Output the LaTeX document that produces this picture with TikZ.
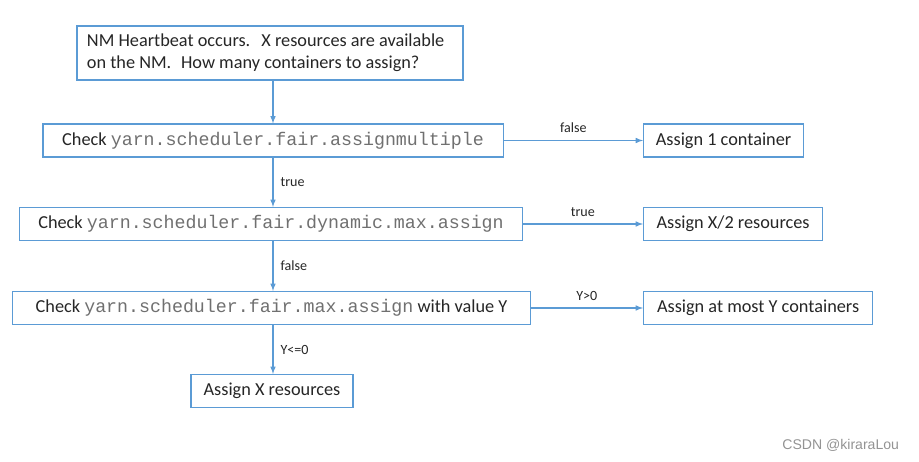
\documentclass[tikz,border=0pt]{standalone}
\usepackage{fontspec}
\setmainfont{Carlito}
\setmonofont{Liberation Mono}
\newfontfamily\markfont{Liberation Sans}
\usetikzlibrary{positioning}

\definecolor{lineblue}{HTML}{5B9BD5}
\definecolor{textgray}{HTML}{262626}
\definecolor{codegray}{HTML}{707070}

\newcommand{\prop}[1]{{\fontsize{13}{15.6}\selectfont\ttfamily\color{codegray}#1}}

\tikzset{   box/.style={draw=lineblue,line width=0.8pt,fill=white,text=textgray,inner xsep=0.25cm,inner ysep=0pt,
                font=\fontsize{13}{15.6}\selectfont,minimum height=0.825cm},
            arr/.style={draw=lineblue,line width=0.8pt,-latex},
            lbl/.style={text=textgray,font=\fontsize{10}{12}\selectfont,inner sep=2pt},
}

\begin{document}
\begin{tikzpicture}[x=0.025cm,y=-0.025cm]
    \useasboundingbox (0,0) rectangle (919,461);

    \node[box,text width=9.15cm,inner xsep=0.25cm,align=flush left,minimum height=1.35cm] (hb) at (270,53)
        {NM Heartbeat occurs.\hspace{4pt} X resources are available\\on the NM.\hspace{4pt} How many containers to assign?};

    \node[box,minimum width=11.5cm] (multi) at (273,140.5) {Check \prop{yarn.scheduler.fair.assignmultiple}};   % checks
    \node[box,minimum width=12.55cm] (dyn) at (271,224) {Check \prop{yarn.scheduler.fair.dynamic.max.assign}};
    \node[box,minimum width=12.925cm] (max) at (271.5,308) {Check \prop{yarn.scheduler.fair.max.assign} with value Y};
    \node[box,minimum width=4.05cm] (allx) at (272,391) {Assign X resources};

    \node[box,anchor=west,minimum width=4cm] (one) at (643,140.5) {Assign 1 container};   % results
    \node[box,anchor=west,minimum width=4.475cm] (half) at (643,224) {Assign X/2 resources};
    \node[box,anchor=west,minimum width=5.725cm] (most) at (643,308) {Assign at most Y containers};

    \draw[arr] (multi.north |- hb.south) -- (multi.north);   % down the middle
    \draw[arr] (multi.south) -- (multi.south |- dyn.north) node[lbl,midway,right,xshift=3pt] {true};
    \draw[arr] (multi.south |- dyn.south) -- (multi.south |- max.north) node[lbl,midway,right,xshift=3pt] {false};
    \draw[arr] (multi.south |- max.south) -- (multi.south |- allx.north) node[lbl,midway,right,xshift=3pt] {Y<=0};

    \draw[arr] (multi.east) -- (one.west) node[lbl,midway,above,yshift=3pt] {false};   % to the right
    \draw[arr] (dyn.east) -- (half.west) node[lbl,midway,above,yshift=3pt] {true};
    \draw[arr] (max.east) -- (most.west) node[lbl,midway,above,yshift=3pt] {Y>0};

    \node[anchor=east,text=gray!85,font=\markfont\fontsize{10}{12}\selectfont] (mark) at (904,445) {CSDN @kiraraLou};
\end{tikzpicture}
\end{document}
